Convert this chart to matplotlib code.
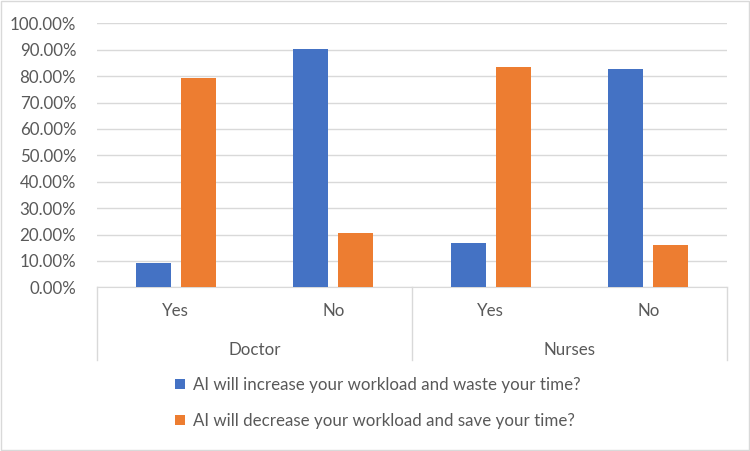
import matplotlib
matplotlib.use("Agg")
import numpy as np
import matplotlib.pyplot as plt
from matplotlib.patches import Rectangle

# ── DATA ─────────────────────────────────────────────
groups = ["Doctor", "Nurses"]
answers = ["Yes", "No", "Yes", "No"]
increase = [0.092, 0.903, 0.169, 0.828]
decrease = [0.792, 0.205, 0.834, 0.161]
series_names = [
    "AI will increase your workload and waste your time?",
    "AI will decrease your workload and save your time?",
]

BLUE = "#4472C4"
ORANGE = "#ED7D31"
GREY_TXT = "#595959"
GRID = "#D9D9D9"
FS = 12.2

plt.rcParams["font.family"] = ["Lato", "DejaVu Sans"]

fig = plt.figure(figsize=(7.5, 4.51), dpi=100)
ax = fig.add_axes([97 / 750, 1 - 287.3 / 451, 630 / 750, 264 / 451])

x = np.arange(len(answers))
w = 35 / 157.5
gap = 10 / 157.5
ax.bar(x - (w + gap) / 2, increase, w, color=BLUE, label=series_names[0], zorder=3)
ax.bar(x + (w + gap) / 2, decrease, w, color=ORANGE, label=series_names[1], zorder=3)

ax.set_xlim(-0.5, len(answers) - 0.5)
ax.set_ylim(0, 1.0)
ax.set_yticks(np.arange(0, 1.01, 0.1))
ax.set_yticklabels([f"{v * 100:.2f}%" for v in np.arange(0, 1.01, 0.1)])
ax.tick_params(axis="y", length=0, labelsize=FS, labelcolor=GREY_TXT, pad=15)
ax.tick_params(axis="x", length=0, labelbottom=False)
ax.grid(axis="y", color=GRID, linewidth=1, zorder=0)
for s in ["top", "right", "left"]:
    ax.spines[s].set_visible(False)
ax.spines["bottom"].set_color(GRID)

# category axis (two levels)
trans = ax.get_xaxis_transform()
for xv in [-0.5, 1.5, 3.5]:
    ax.plot([xv, xv], [0, -0.275], color=GRID, lw=1, transform=trans, clip_on=False)
for i, a in enumerate(answers):
    ax.text(i, -0.09, a, transform=trans, ha="center", va="center",
            fontsize=FS, color=GREY_TXT)
for j, g in enumerate(groups):
    ax.text(2 * j + 0.5, -0.238, g, transform=trans, ha="center", va="center",
            fontsize=FS, color=GREY_TXT)

# legend
leg = fig.legend(loc="center", bbox_to_anchor=(378 / 750, 1 - 403 / 451),
                 frameon=False, ncol=1, fontsize=FS, handlelength=0.55,
                 handleheight=0.55, handletextpad=0.5, labelspacing=1.2)
for t in leg.get_texts():
    t.set_color(GREY_TXT)

# outer border
fig.patches.append(Rectangle((0.001, 0.002), 0.997, 0.996, transform=fig.transFigure,
                             fill=False, edgecolor=GRID, lw=1))

fig.savefig("out.png", dpi=100)
